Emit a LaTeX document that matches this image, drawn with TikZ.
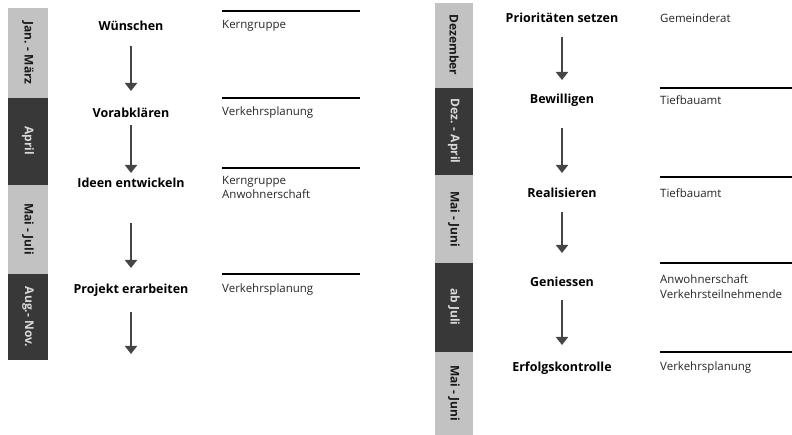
\documentclass[tikz,border=0pt]{standalone}
\usepackage{fontspec}
\setmainfont{Open Sans}
\usetikzlibrary{arrows.meta}
\definecolor{lightbar}{HTML}{C2C2C2}
\definecolor{darkbar}{HTML}{383838}
\definecolor{arrowgray}{HTML}{454545}
\tikzset{
  stepnode/.style={font=\bfseries\fontsize{12.5}{14}\selectfont, inner sep=0pt, anchor=center},
  resp/.style={font=\fontsize{11.5}{14.5}\selectfont, inner sep=0pt, anchor=west, align=left, text=black!85},
  lightseg/.style={fill=lightbar, draw=none},
  darkseg/.style={fill=darkbar, draw=none},
  lightlabel/.style={rotate=-90, font=\bfseries\fontsize{12}{13}\selectfont, text=black!90, inner sep=0pt},
  darklabel/.style={rotate=-90, font=\bfseries\fontsize{12}{13}\selectfont, text=white!85!black, inner sep=0pt},
  flowarrow/.style={draw=arrowgray, line width=1.8pt, -{Triangle[width=12pt,length=8pt]}},
  sepline/.style={draw=black, line width=1.3pt}
}
\begin{document}
\begin{tikzpicture}[x=1pt,y=-1pt]
\useasboundingbox (0,0) rectangle (792,435);
% ---------- left sidebar ----------
\fill[lightseg] (8,8) rectangle (48,98);
\fill[darkseg] (8,98) rectangle (48,185);
\fill[lightseg] (8,185) rectangle (48,274);
\fill[darkseg] (8,274) rectangle (48,360);
\node[lightlabel] (l1) at (28,53) {Jan. - März};
\node[darklabel] (l2) at (28,141) {April};
\node[lightlabel] (l3) at (28,229) {Mai - Juli};
\node[darklabel] (l4) at (28,317) {Aug.- Nov.};
% ---------- left steps ----------
\node[stepnode] (w) at (131,26) {Wünschen};
\node[stepnode] (v) at (131,113) {Vorabklären};
\node[stepnode] (i) at (131,183) {Ideen entwickeln};
\node[stepnode] (p) at (131,290) {Projekt erarbeiten};
\coordinate (pend) at (131,354);
\draw[flowarrow] ([yshift=-20pt]w.center) -- ([yshift=22pt]v.center);
\draw[flowarrow] ([yshift=-12pt]v.center) -- ([yshift=10pt]i.center);
\draw[flowarrow] ([yshift=-40pt]i.center) -- ([yshift=22pt]p.center);
\draw[flowarrow] ([yshift=-22pt]p.center) -- (pend);
% ---------- left responsibilities ----------
\draw[sepline] (222,11) -- (360,11);
\draw[sepline] (222,98) -- (360,98);
\draw[sepline] (222,168) -- (360,168);
\draw[sepline] (222,274) -- (360,274);
\node[resp] (r1) at (222,26) {Kerngruppe};
\node[resp] (r2) at (222,113) {Verkehrsplanung};
\node[resp, anchor=north west] (r3) at (222,176) {Kerngruppe\\Anwohnerschaft};
\node[resp] (r4) at (222,290) {Verkehrsplanung};
% ---------- right sidebar ----------
\fill[lightseg] (435,3) rectangle (473,88);
\fill[darkseg] (435,88) rectangle (473,175);
\fill[lightseg] (435,175) rectangle (473,263);
\fill[darkseg] (435,263) rectangle (473,352);
\fill[lightseg] (435,352) rectangle (473,435);
\node[lightlabel] (m1) at (454,45) {Dezember};
\node[darklabel] (m2) at (454,131) {Dez. - April};
\node[lightlabel] (m3) at (454,219) {Mai - Juni};
\node[darklabel] (m4) at (454,307) {ab Juli};
\node[lightlabel] (m5) at (454,393) {Mai - Juni};
% ---------- right steps ----------
\node[stepnode] (s1) at (562,18) {Prioritäten setzen};
\node[stepnode] (s2) at (562,100) {Bewilligen};
\node[stepnode] (s3) at (562,193) {Realisieren};
\node[stepnode] (s4) at (562,282) {Geniessen};
\node[stepnode] (s5) at (562,368) {Erfolgskontrolle};
\draw[flowarrow] ([yshift=-19pt]s1.center) -- ([yshift=20pt]s2.center);
\draw[flowarrow] ([yshift=-28pt]s2.center) -- ([yshift=20pt]s3.center);
\draw[flowarrow] ([yshift=-19pt]s3.center) -- ([yshift=29pt]s4.center);
\draw[flowarrow] ([yshift=-18pt]s4.center) -- ([yshift=23pt]s5.center);
% ---------- right responsibilities ----------
\draw[sepline] (660,88) -- (792,88);
\draw[sepline] (660,177) -- (792,177);
\draw[sepline] (660,263) -- (792,263);
\draw[sepline] (660,352) -- (792,352);
\node[resp] (g1) at (660,18) {Gemeinderat};
\node[resp] (g2) at (660,100) {Tiefbauamt};
\node[resp] (g3) at (660,193) {Tiefbauamt};
\node[resp, anchor=north west] (g4) at (660,275) {Anwohnerschaft\\Verkehrsteilnehmende};
\node[resp] (g5) at (660,368) {Verkehrsplanung};
\end{tikzpicture}
\end{document}
